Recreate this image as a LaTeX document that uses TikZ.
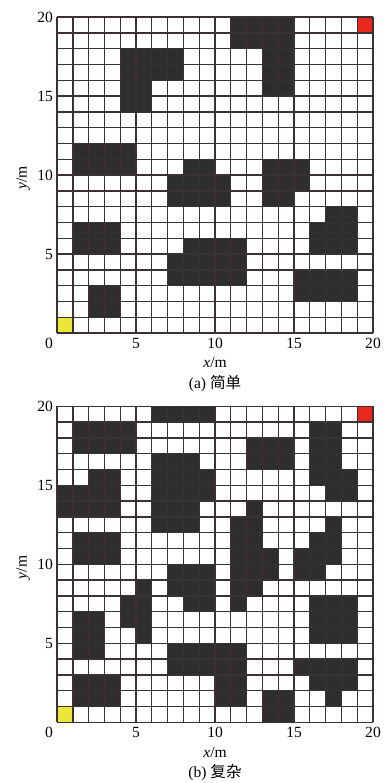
\documentclass[tikz,border=0pt]{standalone}
\usepackage{fontspec}
\setmainfont{Liberation Serif}
\newfontfamily\cjk{Noto Sans CJK SC}
\definecolor{obstGrey}{HTML}{2E2E2E}
\definecolor{lineBrown}{HTML}{3B3131}
\definecolor{goalRed}{HTML}{E8271E}
\definecolor{startYellow}{HTML}{EDE63A}
% axis labels and caption of one map, node names prefixed by #1
\newcommand{\mapaxes}[2]{
  \foreach \t in {5,10,15,20} {
    \node[xtick] (#1x\t) at (\t,-0.98) {\t};
    \node[ytick] (#1y\t) at (-0.25,\t) {\t};
  }
  \node[xtick] (#1o) at (-0.5,-0.98) {0};
  \node[xtick] (#1xl) at (10,-2.2) {\textit{x}/m};
  \node[rotate=90] (#1yl) at (-2.15,9.8) {\textit{y}/m};
  \node[xtick] (#1cap) at (10,-3.48) {(#1) {\cjk #2}};}

\begin{document}
\begin{tikzpicture}[
    x=5mm, y=5mm,
    font=\fontsize{14}{16}\selectfont,
    obst/.style={fill=obstGrey},
    goal/.style={fill=goalRed},
    start/.style={fill=startYellow},
    gridline/.style={draw=lineBrown, line width=1.2pt, step=5mm},
    xtick/.style={inner sep=0pt, anchor=base},
    ytick/.style={inner sep=0pt, anchor=east}
]
\useasboundingbox (-3.61,-28.48) rectangle (21.08,21.08);

% -- Map (a): simple
\begin{scope}
  \foreach \cx/\cy/\w in {11/19/4, 11/18/4, 4/17/4, 13/17/2, 4/16/4, 13/16/2,
      4/15/2, 13/15/2, 4/14/2, 1/11/4, 1/10/4, 8/10/2, 13/10/3, 7/9/4, 13/9/3,
      7/8/4, 13/8/2, 17/7/2, 1/6/3, 16/6/3, 1/5/3, 8/5/4, 16/5/3, 7/4/5,
      7/3/5, 15/3/4, 2/2/2, 15/2/4, 2/1/2}
    \fill[obst] (\cx,\cy) rectangle ++(\w,1);
  \fill[goal] (19,19) rectangle ++(1,1);
  \fill[start] (0,0) rectangle ++(1,1);
  \draw[gridline] (0,0) grid (20,20);
  \mapaxes{a}{简单}
\end{scope}

% -- Map (b): complex
\begin{scope}[yshift=-12.32cm]
  \foreach \cx/\cy/\w in {6/19/4, 1/18/4, 16/18/2, 1/17/4, 12/17/3, 16/17/2,
      6/16/3, 12/16/3, 16/16/2, 2/15/2, 6/15/4, 16/15/3, 0/14/4, 6/14/4,
      17/14/2, 0/13/4, 6/13/3, 12/13/1, 6/12/3, 11/12/2, 17/12/1, 1/11/3,
      11/11/2, 16/11/2, 1/10/3, 11/10/3, 15/10/3, 7/9/3, 11/9/3, 15/9/2,
      5/8/1, 7/8/3, 11/8/2, 4/7/2, 8/7/2, 11/7/1, 16/7/3, 1/6/2, 4/6/2,
      16/6/3, 1/5/2, 5/5/1, 16/5/3, 1/4/2, 7/4/5, 7/3/5, 15/3/4, 1/2/3,
      10/2/2, 16/2/3, 1/1/3, 10/1/2, 13/1/2, 17/1/1, 13/0/2}
    \fill[obst] (\cx,\cy) rectangle ++(\w,1);
  \fill[goal] (19,19) rectangle ++(1,1);
  \fill[start] (0,0) rectangle ++(1,1);
  \draw[gridline] (0,0) grid (20,20);
  \mapaxes{b}{复杂}
\end{scope}

\end{tikzpicture}
\end{document}
